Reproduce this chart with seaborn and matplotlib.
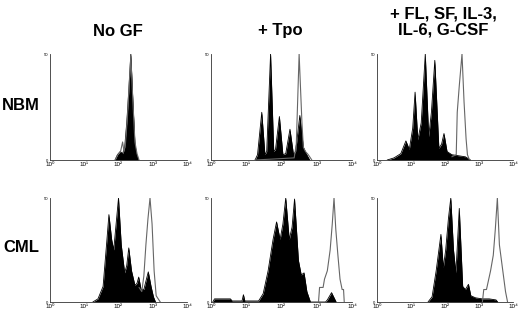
import matplotlib
matplotlib.use("Agg")
import matplotlib.pyplot as plt
import numpy as np
import seaborn as sns

# x in log decades (0 = 10^0 ... 4 = 10^4), y as fraction of panel height
# NBM, no growth factor
nbm_nogf_fill_x = [1.90, 1.97, 2.05, 2.12, 2.18, 2.24, 2.30, 2.36, 2.42, 2.48, 2.53, 2.58]
nbm_nogf_fill_y = [0, 0.05, 0.08, 0.06, 0.12, 0.35, 0.65, 1.0, 0.55, 0.15, 0.05, 0]
nbm_nogf_open_x = [1.90, 1.98, 2.06, 2.12, 2.16, 2.20, 2.26, 2.30, 2.36, 2.42, 2.48, 2.54, 2.60]
nbm_nogf_open_y = [0, 0.05, 0.08, 0.17, 0.08, 0.14, 0.40, 0.65, 0.98, 0.55, 0.17, 0.06, 0]

# NBM, + Tpo
nbm_tpo_fill_x = [1.25, 1.32, 1.44, 1.53, 1.58, 1.69, 1.78, 1.83, 1.94, 2.04, 2.12, 2.24,
                  2.34, 2.40, 2.52, 2.62, 2.70, 2.80]
nbm_tpo_fill_y = [0, 0.05, 0.45, 0.05, 0.08, 1.0, 0.08, 0.10, 0.41, 0.05, 0.06, 0.29,
                  0.05, 0.08, 0.42, 0.12, 0.06, 0]
nbm_tpo_open_x = [1.25, 2.36, 2.42, 2.50, 2.58, 2.62, 2.68, 2.76, 2.86]
nbm_tpo_open_y = [0, 0.02, 0.15, 1.0, 0.35, 0.12, 0.08, 0.05, 0]

# NBM, + FL, SF, IL-3, IL-6, G-CSF
nbm_mix_fill_x = [0.30, 0.50, 0.70, 0.85, 0.95, 1.05, 1.12, 1.20, 1.30, 1.42, 1.52, 1.60,
                  1.70, 1.82, 1.90, 1.97, 2.06, 2.20, 2.40, 2.60, 2.75]
nbm_mix_fill_y = [0, 0.02, 0.06, 0.18, 0.10, 0.30, 0.64, 0.19, 0.35, 1.0, 0.22, 0.45,
                  0.94, 0.11, 0.15, 0.25, 0.08, 0.05, 0.04, 0.03, 0]
nbm_mix_open_x = [2.20, 2.33, 2.36, 2.42, 2.50, 2.56, 2.62, 2.66, 2.72]
nbm_mix_open_y = [0.03, 0.05, 0.45, 0.70, 1.0, 0.55, 0.20, 0.05, 0]

# CML, no growth factor
cml_nogf_fill_x = [1.25, 1.40, 1.55, 1.65, 1.72, 1.80, 1.86, 1.93, 2.00, 2.08, 2.18, 2.24,
                   2.30, 2.38, 2.48, 2.54, 2.59, 2.66, 2.74, 2.80, 2.87, 2.95, 3.02, 3.08]
cml_nogf_fill_y = [0, 0.03, 0.15, 0.55, 0.84, 0.60, 0.50, 0.75, 1.0, 0.55, 0.28, 0.35,
                   0.52, 0.30, 0.16, 0.18, 0.24, 0.12, 0.12, 0.20, 0.29, 0.15, 0.05, 0]
cml_nogf_open_x = [2.60, 2.68, 2.74, 2.80, 2.86, 2.92, 2.98, 3.04, 3.10, 3.16, 3.22]
cml_nogf_open_y = [0.14, 0.10, 0.25, 0.55, 0.80, 1.0, 0.75, 0.30, 0.06, 0.03, 0]

# CML, + Tpo
cml_tpo_fill_x = [0.05, 0.10, 0.55, 0.60, 0.88, 0.92, 0.96, 1.35, 1.48, 1.62, 1.76, 1.86,
                  1.96, 2.04, 2.12, 2.22, 2.30, 2.37, 2.48, 2.56, 2.64, 2.72, 2.82, 3.25,
                  3.30, 3.42, 3.55]
cml_tpo_fill_y = [0, 0.03, 0.03, 0.01, 0.01, 0.07, 0.01, 0.01, 0.08, 0.30, 0.60, 0.77,
                  0.60, 0.75, 1.0, 0.60, 0.72, 0.99, 0.40, 0.26, 0.28, 0.10, 0.0, 0.0,
                  0.02, 0.09, 0]
cml_tpo_open_x = [3.05, 3.08, 3.18, 3.22, 3.30, 3.38, 3.44, 3.49, 3.54, 3.60, 3.66, 3.72,
                  3.76, 3.78]
cml_tpo_open_y = [0.0, 0.14, 0.14, 0.22, 0.30, 0.50, 0.75, 1.0, 0.70, 0.45, 0.22, 0.12,
                  0.12, 0]

# CML, + FL, SF, IL-3, IL-6, G-CSF
cml_mix_fill_x = [1.50, 1.62, 1.74, 1.82, 1.88, 1.95, 2.02, 2.10, 2.17, 2.25, 2.32, 2.42,
                  2.52, 2.60, 2.69, 2.76, 2.90, 3.10, 3.30, 3.50, 3.55]
cml_mix_fill_y = [0, 0.05, 0.30, 0.50, 0.65, 0.33, 0.50, 0.80, 1.0, 0.50, 0.28, 0.90,
                  0.15, 0.12, 0.17, 0.06, 0.04, 0.03, 0.03, 0.02, 0]
cml_mix_open_x = [3.10, 3.14, 3.22, 3.26, 3.34, 3.42, 3.48, 3.54, 3.60, 3.66, 3.72, 3.78, 3.84]
cml_mix_open_y = [0, 0.12, 0.12, 0.18, 0.30, 0.45, 0.70, 1.0, 0.55, 0.40, 0.25, 0.10, 0]

col_titles = ["No GF", "+ Tpo", "+ FL, SF, IL-3,\nIL-6, G-CSF"]
row_titles = ["NBM", "CML"]
tick_labels = ["10⁰", "10¹", "10²", "10³", "10⁴"]

panels = [
    [(nbm_nogf_fill_x, nbm_nogf_fill_y, nbm_nogf_open_x, nbm_nogf_open_y),
     (nbm_tpo_fill_x, nbm_tpo_fill_y, nbm_tpo_open_x, nbm_tpo_open_y),
     (nbm_mix_fill_x, nbm_mix_fill_y, nbm_mix_open_x, nbm_mix_open_y)],
    [(cml_nogf_fill_x, cml_nogf_fill_y, cml_nogf_open_x, cml_nogf_open_y),
     (cml_tpo_fill_x, cml_tpo_fill_y, cml_tpo_open_x, cml_tpo_open_y),
     (cml_mix_fill_x, cml_mix_fill_y, cml_mix_open_x, cml_mix_open_y)],
]

sns.set_theme(style="white")
plt.rcParams["font.family"] = ["Liberation Sans", "DejaVu Sans"]
plt.rcParams["text.color"] = "black"

fig = plt.figure(figsize=(5.2, 3.12), dpi=100)
fig.patch.set_facecolor("white")

lefts = [50 / 520, 211 / 520, 377 / 520]
widths = [137 / 520, 141 / 520, 136 / 520]
bottoms = [1 - 160 / 312, 1 - 302 / 312]
heights = [106 / 312, 104 / 312]

minor = [k + np.log10(m) for k in range(4) for m in range(2, 10)]

for r in range(2):
    for c in range(3):
        ax = fig.add_axes([lefts[c], bottoms[r], widths[c], heights[r]])
        fx, fy, ox, oy = panels[r][c]
        ax.fill_between(fx, fy, 0, color="black", linewidth=0, zorder=2)
        sns.lineplot(x=fx, y=fy, color="black", linewidth=0.6, ax=ax, zorder=3)
        sns.lineplot(x=ox, y=oy, color="#666666", linewidth=0.8, ax=ax, zorder=4)
        ax.set_xlim(0, 4)
        ax.set_ylim(0, 1.0)
        for side in ["top", "right"]:
            ax.spines[side].set_visible(False)
        for side in ["left", "bottom"]:
            ax.spines[side].set_color("#333333")
            ax.spines[side].set_linewidth(0.6)
        ax.set_xticks(range(5))
        ax.set_xticklabels(tick_labels)
        ax.set_xticks(minor, minor=True)
        ax.set_yticks([0, 0.25, 0.5, 0.75, 1.0])
        ax.set_yticklabels(["0", "", "", "", "50"])
        ax.tick_params(axis="x", which="major", direction="out", length=1.5, width=0.5,
                       labelsize=4.5, pad=0.3, color="#333333", labelcolor="black")
        ax.tick_params(axis="x", which="minor", direction="out", length=1, width=0.4,
                       color="#333333")
        ax.tick_params(axis="y", direction="in", length=1.5, width=0.4, labelsize=3,
                       pad=1, color="#333333", labelcolor="black")
        ax.set_xlabel("")
        ax.set_ylabel("")
        ax.grid(False)
        ax.set_facecolor("white")

# column headers
fig.text(117.5 / 520, 1 - 31 / 312, col_titles[0], ha="center", va="center",
         fontsize=12, fontweight="bold", color="black")
fig.text(280 / 520, 1 - 31 / 312, col_titles[1], ha="center", va="center",
         fontsize=12, fontweight="bold", color="black")
fig.text(443 / 520, 1 - 22 / 312, col_titles[2], ha="center", va="center",
         fontsize=12, fontweight="bold", linespacing=1.1, color="black")

# row labels
fig.text(21 / 520, 1 - 105 / 312, row_titles[0], ha="center", va="center",
         fontsize=12, fontweight="bold", color="black")
fig.text(21 / 520, 1 - 248 / 312, row_titles[1], ha="center", va="center",
         fontsize=12, fontweight="bold", color="black")

fig.savefig("out.png", dpi=100, facecolor="white")
